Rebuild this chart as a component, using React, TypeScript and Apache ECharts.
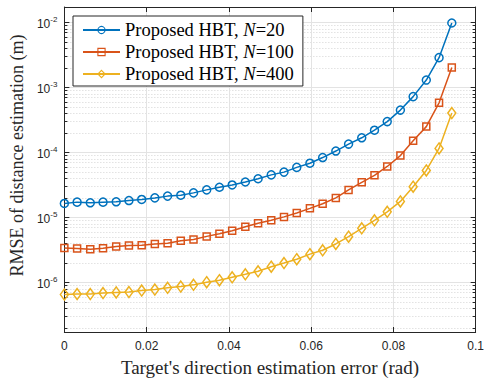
import React, { useEffect, useRef } from "react";
import * as echarts from "echarts";

// Target's direction estimation error (rad)
const xValues = [
  0, 0.0031, 0.0063, 0.0094, 0.0126, 0.0157, 0.0188, 0.022, 0.0251, 0.0283,
  0.0314, 0.0346, 0.0377, 0.0408, 0.044, 0.0471, 0.0503, 0.0534, 0.0565,
  0.0597, 0.0628, 0.066, 0.0691, 0.0723, 0.0754, 0.0785, 0.0817, 0.0848,
  0.088, 0.0911, 0.0942,
];

// RMSE of distance estimation (m)
const rmseN20 = [
  1.65e-5, 1.73e-5, 1.69e-5, 1.73e-5, 1.75e-5, 1.83e-5, 1.9e-5, 2.01e-5,
  2.14e-5, 2.21e-5, 2.4e-5, 2.67e-5, 2.93e-5, 3.18e-5, 3.53e-5, 3.96e-5,
  4.54e-5, 5.01e-5, 5.92e-5, 6.87e-5, 8.39e-5, 1.057e-4, 1.352e-4, 1.69e-4,
  2.21e-4, 3.0e-4, 4.51e-4, 7.26e-4, 1.306e-3, 2.89e-3, 9.86e-3,
];
const rmseN100 = [
  3.41e-6, 3.34e-6, 3.26e-6, 3.37e-6, 3.58e-6, 3.71e-6, 3.75e-6, 3.93e-6,
  4.02e-6, 4.42e-6, 4.62e-6, 5.14e-6, 5.65e-6, 6.28e-6, 7.21e-6, 8.18e-6,
  9.1e-6, 1.026e-5, 1.18e-5, 1.387e-5, 1.633e-5, 2.01e-5, 2.67e-5, 3.49e-5,
  4.47e-5, 6.12e-5, 8.99e-5, 1.524e-4, 2.51e-4, 5.83e-4, 2.04e-3,
];
const rmseN400 = [
  6.56e-7, 6.65e-7, 6.65e-7, 6.9e-7, 7.05e-7, 7.14e-7, 7.55e-7, 7.82e-7,
  8.3e-7, 8.69e-7, 9.23e-7, 1.014e-6, 1.089e-6, 1.208e-6, 1.343e-6, 1.493e-6,
  1.758e-6, 2.0e-6, 2.29e-6, 2.74e-6, 3.14e-6, 3.93e-6, 5.08e-6, 6.84e-6,
  9.1e-6, 1.227e-5, 1.774e-5, 2.99e-5, 5.32e-5, 1.161e-4, 4.06e-4,
];

const seriesNames = [
  "Proposed HBT, N=20",
  "Proposed HBT, N=100",
  "Proposed HBT, N=400",
];
const seriesColors = ["#0072BD", "#D95319", "#EDB120"];
const seriesSymbols = ["circle", "rect", "diamond"];

// y axis decades (exponents of 10)
const yDecades = [-6, -5, -4, -3, -2];
const yMinExp = -6.76;
const yMaxExp = -1.76;

const xTitle = "Target's direction estimation error (rad)";
const yTitle = "RMSE of distance estimation (m)";

export default function App() {
  const ref = useRef<HTMLDivElement>(null);

  useEffect(() => {
    if (!ref.current) return;
    const chart = echarts.init(ref.current, undefined, { renderer: "svg" });

    const minorVals: number[] = [];
    for (let n = -7; n <= -2; n++) {
      for (let k = 2; k <= 9; k++) {
        const v = Math.log10(k) + n;
        if (v > yMinExp && v < yMaxExp) minorVals.push(v);
      }
    }

    const axisColor = "#262626";
    const tickFont = "Liberation Sans";
    const serif = "Liberation Serif";

    const toData = (vals: number[]) =>
      xValues.map((x, i) => [x, Math.log10(vals[i])]);

    const allVals = [rmseN20, rmseN100, rmseN400];

    const yBase = {
      type: "value" as const,
      min: yMinExp,
      max: yMaxExp,
    };

    const option: any = {
      animation: false,
      backgroundColor: "#ffffff",
      grid: { left: 62, right: 8, top: 7, bottom: 46, containLabel: false },
      legend: {
        orient: "vertical",
        left: 73,
        top: 16,
        backgroundColor: "#ffffff",
        borderColor: axisColor,
        borderWidth: 1,
        borderRadius: 0,
        padding: [4, 9, 2, 9],
        itemWidth: 37,
        itemHeight: 9,
        itemGap: 2,
        itemStyle: { borderWidth: 1.1 },
        data: seriesNames,
        formatter: (name: string) => name.replace("N=", "{i|N}="),
        textStyle: {
          fontFamily: serif,
          fontSize: 18.5,
          lineHeight: 20,
          color: "#000",
          rich: {
            i: {
              fontFamily: serif,
              fontSize: 18.5,
              lineHeight: 20,
              fontStyle: "italic",
              color: "#000",
            },
          },
        },
      },
      xAxis: [
        {
          type: "value",
          position: "bottom",
          min: 0,
          max: 0.1,
          interval: 0.02,
          name: xTitle,
          nameLocation: "middle",
          nameGap: 26,
          nameTextStyle: { fontFamily: serif, fontSize: 19, color: axisColor },
          axisLine: { show: true, lineStyle: { color: axisColor, width: 1 } },
          axisTick: { show: true, inside: true, length: 5, lineStyle: { color: axisColor } },
          axisLabel: {
            margin: 8,
            fontFamily: tickFont,
            fontSize: 12,
            color: axisColor,
          },
          splitLine: { show: true, lineStyle: { color: "#e3e3e3", width: 1 } },
        },
        {
          type: "value",
          position: "top",
          min: 0,
          max: 0.1,
          interval: 0.02,
          axisLine: { show: true, onZero: false, lineStyle: { color: axisColor, width: 1 } },
          axisTick: { show: true, inside: true, length: 5, lineStyle: { color: axisColor } },
          axisLabel: { show: false },
          splitLine: { show: false },
        },
      ],
      yAxis: [
        {
          ...yBase,
          position: "left",
          name: yTitle,
          nameLocation: "middle",
          nameRotate: 90,
          nameGap: 34,
          nameTextStyle: {
            fontFamily: serif,
            fontSize: 18,
            color: axisColor,
            padding: [0, 0, 0, 28],
          },
          axisLine: { show: true, onZero: false, lineStyle: { color: axisColor, width: 1 } },
          axisTick: {
            show: true,
            inside: true,
            length: 5,
            customValues: yDecades,
            lineStyle: { color: axisColor },
          },
          axisLabel: {
            show: true,
            margin: 7,
            customValues: yDecades,
            formatter: (v: number) => `{b|10}{s|${Math.round(v)}}`,
            rich: {
              b: { fontFamily: tickFont, fontSize: 12, color: axisColor, verticalAlign: "bottom" },
              s: {
                fontFamily: tickFont,
                fontSize: 8,
                color: axisColor,
                verticalAlign: "top",
                padding: [0, 0, 7, 0],
              },
            },
          },
          splitLine: { show: true, lineStyle: { color: "#e3e3e3", width: 1 } },
        },
        {
          ...yBase,
          position: "left",
          axisLine: { show: false, onZero: false },
          axisTick: {
            show: true,
            inside: true,
            length: 3,
            customValues: minorVals,
            lineStyle: { color: axisColor },
          },
          axisLabel: { show: false },
          splitLine: {
            show: true,
            lineStyle: { color: "#d4d4d4", width: 1, type: [1, 2] },
          },
        },
        {
          ...yBase,
          position: "right",
          axisLine: { show: true, onZero: false, lineStyle: { color: axisColor, width: 1 } },
          axisTick: {
            show: true,
            inside: true,
            length: 5,
            customValues: yDecades,
            lineStyle: { color: axisColor },
          },
          axisLabel: { show: false },
          splitLine: { show: false },
        },
        {
          ...yBase,
          position: "right",
          axisLine: { show: false, onZero: false },
          axisTick: {
            show: true,
            inside: true,
            length: 3,
            customValues: minorVals,
            lineStyle: { color: axisColor },
          },
          axisLabel: { show: false },
          splitLine: { show: false },
        },
      ],
      series: seriesNames.map((name, i) => ({
        name,
        type: "line",
        xAxisIndex: 0,
        yAxisIndex: 0,
        data: toData(allVals[i]),
        symbol: seriesSymbols[i],
        symbolSize: i === 0 ? 8 : i === 1 ? 7 : [8, 11],
        showAllSymbol: true,
        lineStyle: { color: seriesColors[i], width: 1.5 },
        itemStyle: { color: "none", borderColor: seriesColors[i], borderWidth: 1.5 },
        emphasis: { disabled: true },
        z: 3 + i,
      })),
    };

    chart.setOption(option);
    return () => chart.dispose();
  }, []);

  return (
    <div
      ref={ref}
      style={{ position: "fixed", left: 0, top: 0, width: 487, height: 382 }}
    />
  );
}
